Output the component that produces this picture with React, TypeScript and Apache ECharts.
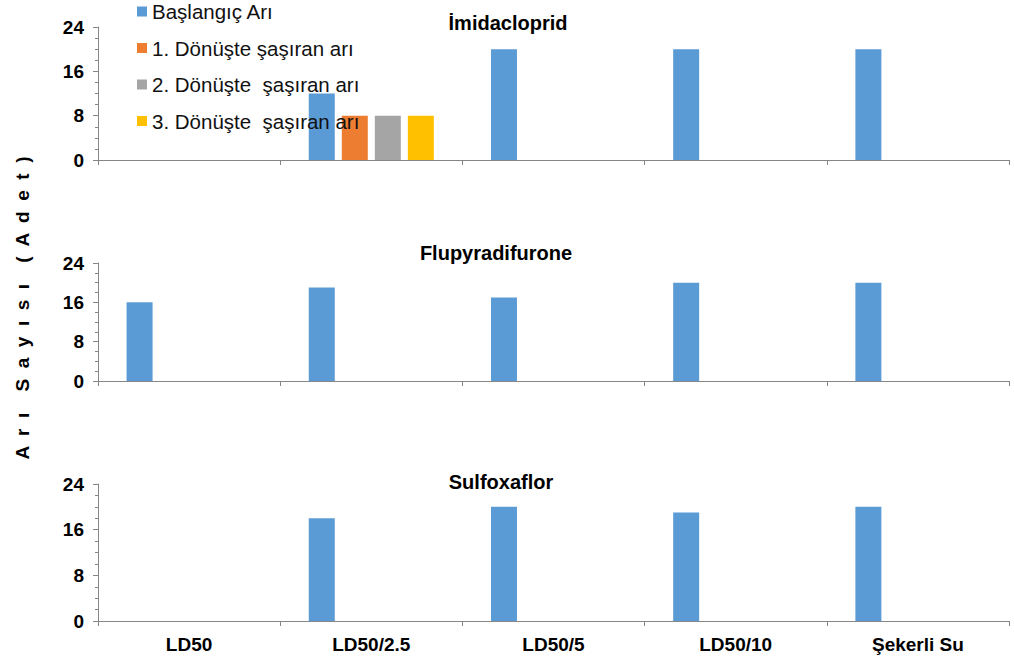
import React, { useEffect, useRef } from "react";
import * as echarts from "echarts";

// Dose groups along the x axis
const categories = ["LD50", "LD50/2.5", "LD50/5", "LD50/10", "Şekerli Su"];

// Series (legend) names
const seriesNames = [
  "Başlangıç Arı",
  "1. Dönüşte şaşıran arı",
  "2. Dönüşte  şaşıran arı",
  "3. Dönüşte  şaşıran arı",
];
const seriesColors = ["#5B9BD5", "#ED7D31", "#A5A5A5", "#FFC000"];

// Panel titles (active substances)
const panelTitles = ["İmidacloprid", "Flupyradifurone", "Sulfoxaflor"];

// Bee counts per panel, one array per series
const imidaclopridBaslangic = [0, 12, 20, 20, 20];
const imidaclopridDonus1 = [0, 8, 0, 0, 0];
const imidaclopridDonus2 = [0, 8, 0, 0, 0];
const imidaclopridDonus3 = [0, 8, 0, 0, 0];

const flupyradifuroneBaslangic = [16, 19, 17, 20, 20];
const flupyradifuroneDonus1 = [0, 0, 0, 0, 0];
const flupyradifuroneDonus2 = [0, 0, 0, 0, 0];
const flupyradifuroneDonus3 = [0, 0, 0, 0, 0];

const sulfoxaflorBaslangic = [0, 18, 20, 19, 20];
const sulfoxaflorDonus1 = [0, 0, 0, 0, 0];
const sulfoxaflorDonus2 = [0, 0, 0, 0, 0];
const sulfoxaflorDonus3 = [0, 0, 0, 0, 0];

const panelData = [
  [imidaclopridBaslangic, imidaclopridDonus1, imidaclopridDonus2, imidaclopridDonus3],
  [flupyradifuroneBaslangic, flupyradifuroneDonus1, flupyradifuroneDonus2, flupyradifuroneDonus3],
  [sulfoxaflorBaslangic, sulfoxaflorDonus1, sulfoxaflorDonus2, sulfoxaflorDonus3],
];

// Y axis range and tick labels
const yMin = 0;
const yMax = 24;
const yInterval = 8;

const yAxisTitle = "A  r  ı    S  a  y  ı  s  ı    (  A  d  e  t  )";

const FONT = "'Liberation Sans', Arial, sans-serif";
const AXIS_GRAY = "#868686";

// Grid placement of the three stacked panels
const panelGrids = [
  { top: 27, height: 133 },
  { top: 263, height: 118 },
  { top: 484, height: 137 },
];
const titlePos = [
  { x: 508, y: 23 },
  { x: 496, y: 253 },
  { x: 501, y: 482 },
];

export default function App() {
  const ref = useRef<HTMLDivElement>(null);

  useEffect(() => {
    if (!ref.current) return;
    const chart = echarts.init(ref.current, null, { renderer: "svg" });

    const grids = panelGrids.map((g) => ({
      left: 98,
      right: 5,
      top: g.top,
      height: g.height,
      containLabel: false,
    }));

    const xAxes = panelGrids.map((_, i) => ({
      type: "category",
      gridIndex: i,
      data: categories,
      axisLine: { show: true, lineStyle: { color: AXIS_GRAY, width: 1 } },
      axisTick: { show: true, length: 5, lineStyle: { color: AXIS_GRAY } },
      axisLabel: {
        show: i === panelGrids.length - 1,
        color: "#000",
        fontFamily: FONT,
        fontWeight: "bold",
        fontSize: 19,
        margin: 14,
      },
      splitLine: { show: false },
    }));

    const yAxes = panelGrids.map((_, i) => ({
      type: "value",
      gridIndex: i,
      min: yMin,
      max: yMax,
      interval: yInterval,
      axisLine: { show: true, lineStyle: { color: AXIS_GRAY, width: 1 } },
      axisTick: { show: true, length: 5, lineStyle: { color: AXIS_GRAY } },
      minorTick: { show: true, splitNumber: 4, length: 3, lineStyle: { color: AXIS_GRAY } },
      axisLabel: {
        color: "#000",
        fontFamily: FONT,
        fontWeight: "bold",
        fontSize: 19,
        margin: 14,
      },
      splitLine: { show: false },
    }));

    const series: any[] = [];
    panelData.forEach((panel, p) => {
      panel.forEach((values, s) => {
        series.push({
          type: "bar",
          name: seriesNames[s],
          xAxisIndex: p,
          yAxisIndex: p,
          data: values,
          barWidth: 26,
          barGap: "27%",
          itemStyle: { color: seriesColors[s] },
        });
      });
    });

    const graphic: any[] = panelTitles.map((t, i) => ({
      type: "text",
      x: titlePos[i].x,
      y: titlePos[i].y,
      style: {
        text: t,
        fill: "#000",
        font: `bold 20px ${FONT}`,
        textAlign: "center",
        textVerticalAlign: "middle",
      },
    }));
    graphic.push({
      type: "text",
      x: 22,
      y: 308,
      rotation: Math.PI / 2,
      style: {
        text: yAxisTitle,
        fill: "#000",
        font: `bold 19px ${FONT}`,
        textAlign: "center",
        textVerticalAlign: "middle",
      },
    });

    chart.setOption({
      animation: false,
      color: seriesColors,
      grid: grids,
      xAxis: xAxes,
      yAxis: yAxes,
      legend: {
        data: seriesNames,
        orient: "vertical",
        left: 137,
        top: 1,
        padding: 0,
        itemWidth: 10,
        itemHeight: 10,
        itemGap: 15.5,
        icon: "rect",
        textStyle: { fontFamily: FONT, fontSize: 20.5, color: "#111" },
      },
      series,
      graphic,
    });

    return () => chart.dispose();
  }, []);

  return (
    <div
      ref={ref}
      style={{ position: "fixed", left: 0, top: 0, width: 1014, height: 663, background: "#fff" }}
    />
  );
}
